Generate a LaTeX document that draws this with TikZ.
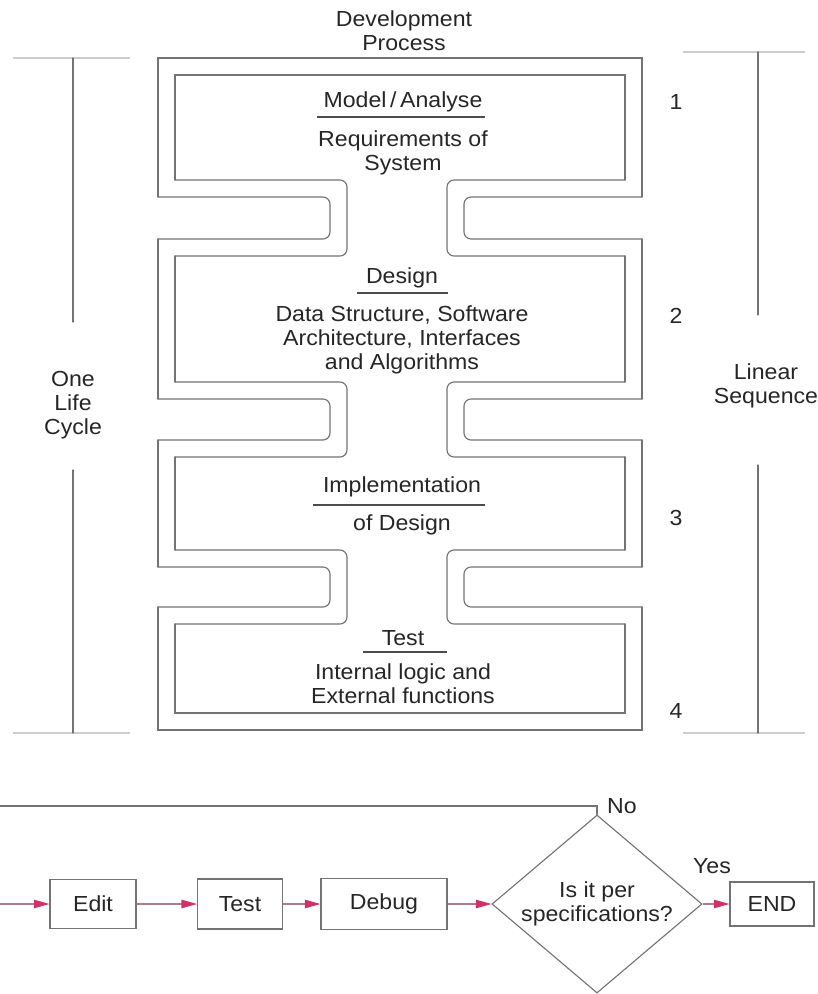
\documentclass[tikz,border=0pt]{standalone}
\usepackage{fontspec}
\setmainfont{Liberation Sans}[FakeStretch=1.06]
\usetikzlibrary{arrows.meta,shapes.geometric}

\definecolor{wallgray}{RGB}{115,115,115}
\definecolor{tickgray}{RGB}{205,205,205}
\definecolor{tipred}{RGB}{212,48,104}
\definecolor{flowgray}{RGB}{170,125,140}

% One outline of the stage channel.  #1 pushes it outwards, so the inner
% wall is \channelwall{0} and the outer one follows it at the band width.
% The necks are drawn as separate rounded U's so that the box corners
% themselves stay sharp.
\newcommand\channelwall[1]{%
 \draw[wall] (175-#1,180+#1) -- (175-#1,75-#1) -- (625+#1,75-#1) -- (625+#1,180+#1);
 \draw[wall] (175-#1,624-#1) -- (175-#1,713+#1) -- (625+#1,713+#1) -- (625+#1,624-#1);
 \foreach \t/\b in {180/256,382/457,550/624} {
  \draw[wall,rounded corners=5pt] (625+#1,\t+#1) -- (447+#1,\t+#1) -- (447+#1,\b-#1) -- (625+#1,\b-#1);
  \draw[wall,rounded corners=5pt] (175-#1,\t+#1) -- (347-#1,\t+#1) -- (347-#1,\b-#1) -- (175-#1,\b-#1);
 }
 \foreach \t/\b in {256/382,457/550} {
  \draw[wall] (625+#1,\t-#1) -- (625+#1,\b+#1);
  \draw[wall] (175-#1,\t-#1) -- (175-#1,\b+#1);
 }}

\begin{document}
\begin{tikzpicture}[x=0.025cm,y=-0.025cm,line width=0.8pt,
  wall/.style={draw=wallgray,line cap=round},
  tick/.style={draw=tickgray},
  rule/.style={draw=black!70,line width=0.9pt},
  txt/.style={font=\fontsize{15.5}{17}\selectfont,text=black!85,align=center,inner sep=0pt},
  stepbox/.style={txt,draw=wallgray},
  flowarrow/.style={draw=flowgray,-{Triangle[length=11pt,width=6pt,color=tipred]}}]
 \path[use as bounding box,fill=white] (0,0) rectangle (817,994);

 % the four stages
 \channelwall{0}
 \channelwall{17}
 \node[txt] (proc) at (404,31) {Development\\Process};

 \node[txt] (t1) at (403,102) {Model\,/\,Analyse};
 \draw[rule] (317,117) -- (485,117);
 \node[txt] (b1) at (403,153) {Requirements of\\System};

 \node[txt] (t2) at (402,278) {Design};
 \draw[rule] (357,293) -- (448,293);
 \node[txt] (b2) at (402,340) {Data Structure, Software\\Architecture, Interfaces\\and Algorithms};

 \node[txt] (t3) at (402,487) {Implementation};
 \draw[rule] (313,505) -- (485,505);
 \node[txt] (b3) at (402,525) {of Design};

 \node[txt] (t4) at (403,638) {Test};
 \draw[rule] (363,652) -- (447,652);
 \node[txt] (b4) at (403,684) {Internal logic and\\External functions};

 % stage numbers
 \foreach \n/\y in {1/102,2/316,3/518,4/711}
  \node[txt] (n\n) at (676,\y) {\n};

 % brackets at both sides
 \node[txt] (cycle) at (73,405) {One\\Life\\Cycle};
 \draw[tick] (13,58) -- (130,58);
 \draw[tick] (13,733) -- (130,733);
 \draw[wall] (73,58) -- (73,322);
 \draw[wall] (73,470) -- (73,733);

 \node[txt] (linear) at (766,386) {Linear\\Sequence};
 \draw[tick] (683,52) -- (805,52);
 \draw[tick] (683,733) -- (805,733);
 \draw[wall] (758,52) -- (758,315);
 \draw[wall] (758,465) -- (758,733);

 % edit-test-debug loop
 \coordinate (in) at (0,904);
 \coordinate (back) at (0,806);
 \node[stepbox,minimum width=2.15cm,minimum height=1.225cm] (edit) at (93,904) {Edit};
 \node[stepbox,minimum width=2.125cm,minimum height=1.25cm] (test) at (240,904) {Test};
 \node[stepbox,minimum width=3.15cm,minimum height=1.275cm] (debug) at (384,904) {Debug};
 \node[stepbox,diamond,aspect=1.18,minimum width=5.25cm,minimum height=4.45cm] (check) at (597,904) {Is it per\\specifications?};
 \node[stepbox,minimum width=2.1cm,minimum height=1.1cm] (end) at (772,904) {END};

 \draw[flowarrow] (in) -- (edit);
 \draw[flowarrow] (edit) -- (test);
 \draw[flowarrow] (test) -- (debug);
 \draw[flowarrow] (debug) -- (check);
 \draw[flowarrow] (check) -- (end);
 \draw[wall] (check.north) |- (back);
 \node[txt] (no) at (622,806) {No};
 \node[txt] (yes) at (712,866) {Yes};
\end{tikzpicture}
\end{document}
